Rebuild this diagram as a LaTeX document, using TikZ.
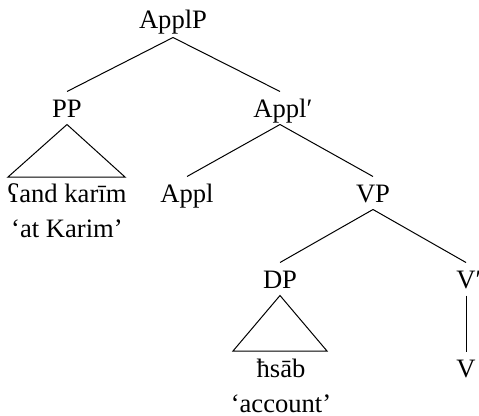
\documentclass[tikz,border=0pt]{standalone}
\usepackage{fontspec}
\setmainfont{Liberation Serif}
\begin{document}
\begin{tikzpicture}[x=1pt,y=-1pt,line width=1pt,
  synnode/.style={anchor=base,font=\fontsize{26.6}{30}\selectfont,inner sep=0pt,text height=25pt,text depth=7pt},
  leafnode/.style={anchor=base,font=\fontsize{26.6}{30}\selectfont,inner sep=0pt}]
\useasboundingbox (0,0) rectangle (479,415);
\node[synnode,text depth=9pt] (ApplP) at (173,28) {ApplP};
\node[synnode] (PP) at (67,117) {PP};
\node[synnode] (Applbar) at (280,117) {Appl\rlap{′}};
\node[leafnode] (pp1) at (67,202) {ʕand karīm};
\node[leafnode] (pp2) at (67,237) {‘at Karim’};
\node[synnode] (Appl) at (187,202) {Appl};
\node[synnode] (VP) at (373,202) {VP};
\node[synnode] (DP) at (280,288) {DP};
\node[synnode] (Vbar) at (466,288) {V\rlap{′}};
\node[leafnode] (dp1) at (281,377) {ħsāb};
\node[leafnode] (dp2) at (281,412) {‘account’};
\node[synnode] (V) at (466,377) {V};
\coordinate (t1l) at (8,177);
\coordinate (t1r) at (125,177);
\coordinate (t2l) at (233,351);
\coordinate (t2r) at (327,351);
\draw (ApplP.south) -- (PP.north);
\draw (ApplP.south) -- (Applbar.north);
\draw (Applbar.south) -- (Appl.north);
\draw (Applbar.south) -- (VP.north);
\draw (VP.south) -- (DP.north);
\draw (VP.south) -- (Vbar.north);
\draw (Vbar.south) -- (V.north);
\draw (PP.south) -- (t1l) -- (t1r) -- cycle;
\draw (DP.south) -- (t2l) -- (t2r) -- cycle;
\end{tikzpicture}
\end{document}
